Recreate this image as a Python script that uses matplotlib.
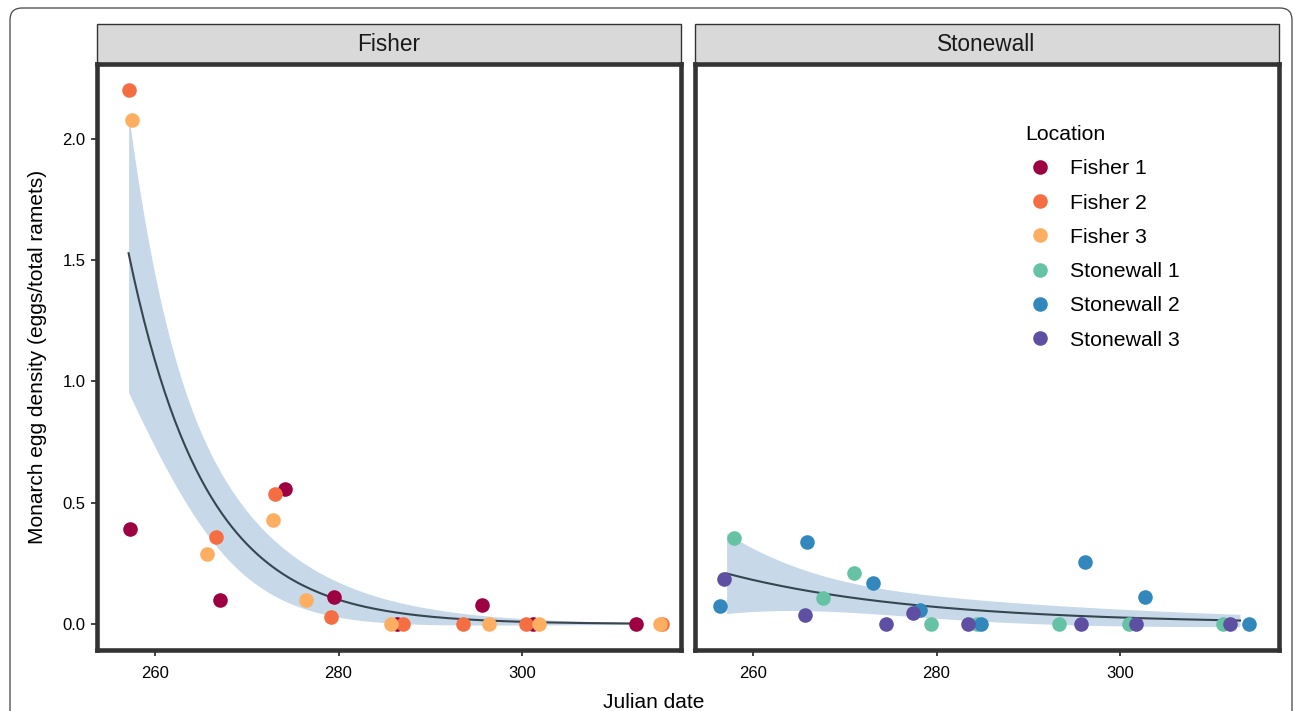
import numpy as np
import matplotlib.pyplot as plt
from matplotlib.patches import Rectangle, FancyBboxPatch
from matplotlib.lines import Line2D

plt.rcParams['font.family'] = ['Liberation Sans', 'DejaVu Sans']

# data (dates are jittered as in the original)
fisher1_date = [257.2, 267.1, 274.2, 279.5, 286.4, 295.7, 301.2, 312.4]
fisher1_eggs = [0.39, 0.10, 0.555, 0.11, 0.0, 0.08, 0.0, 0.0]
fisher2_date = [257.1, 266.6, 273.1, 279.2, 287.0, 293.6, 300.4, 315.3]
fisher2_eggs = [2.20, 0.36, 0.535, 0.03, 0.0, 0.0, 0.0, 0.0]
fisher3_date = [257.5, 265.7, 272.8, 276.5, 285.7, 296.4, 301.9, 315.1]
fisher3_eggs = [2.08, 0.29, 0.43, 0.10, 0.0, 0.0, 0.0, 0.0]
stone1_date = [257.9, 267.6, 271.0, 279.4, 284.4, 293.4, 301.0, 311.3]
stone1_eggs = [0.353, 0.108, 0.21, 0.0, 0.0, 0.0, 0.0, 0.0]
stone2_date = [256.4, 265.9, 273.1, 278.2, 284.8, 296.2, 302.7, 314.1]
stone2_eggs = [0.074, 0.34, 0.17, 0.058, 0.0, 0.254, 0.113, 0.0]
stone3_date = [256.8, 265.6, 274.5, 277.4, 283.4, 295.8, 301.8, 312.0]
stone3_eggs = [0.187, 0.036, 0.0, 0.044, 0.0, 0.0, 0.0, 0.0]

survey_range = (257.1, 313.1)

locations = ["Fisher 1", "Fisher 2", "Fisher 3", "Stonewall 1", "Stonewall 2", "Stonewall 3"]
colors = ["#9E0142", "#F46D43", "#FDAE61", "#66C2A5", "#3288BD", "#5E4FA2"]

panels = {
    "Fisher": [(fisher1_date, fisher1_eggs), (fisher2_date, fisher2_eggs), (fisher3_date, fisher3_eggs)],
    "Stonewall": [(stone1_date, stone1_eggs), (stone2_date, stone2_eggs), (stone3_date, stone3_eggs)],
}


def glm_fit(x, y, xs):
    # quasipoisson glm, log link; CI on response scale (t quantile, n-2 df)
    x0 = 257.0
    X = np.column_stack([np.ones_like(x), x - x0])
    beta = np.array([np.log(y.mean()), 0.0])
    for _ in range(100):
        eta = X @ beta
        mu = np.exp(eta)
        z = eta + (y - mu) / mu
        XtW = X.T * mu
        beta = np.linalg.solve(XtW @ X, XtW @ z)
    mu = np.exp(X @ beta)
    phi = np.sum((y - mu) ** 2 / mu) / (len(y) - 2)
    cov = phi * np.linalg.inv((X.T * mu) @ X)
    Xs = np.column_stack([np.ones_like(xs), xs - x0])
    fit = np.exp(Xs @ beta)
    se = np.sqrt(np.einsum('ij,jk,ik->i', Xs, cov, Xs)) * fit
    q = 2.074  # qt(0.975, 22)
    return fit, fit - q * se, fit + q * se


W, H = 1295, 711
fig = plt.figure(figsize=(W / 100, H / 100), dpi=100)

# outer rounded frame
frame = FancyBboxPatch((0.10, -0.3), 12.82, 7.03 + 0.3, boxstyle="round,pad=0,rounding_size=0.12",
                       transform=fig.dpi_scale_trans, fill=False, edgecolor="#444444", linewidth=0.9)
fig.patches.append(frame)

border = "#333333"
lefts = [96.5, 694.5]
top_px, bot_px = 64.5, 649.5
width_px = 584
strip_top = 24.5

axes = []
for (name, groups), left, k in zip(panels.items(), lefts, [0, 3]):
    ax = fig.add_axes([left / W, (H - bot_px) / H, width_px / W, (bot_px - top_px) / H])
    axes.append(ax)
    xs_all = np.concatenate([np.asarray(d) for d, _ in groups])
    ys_all = np.concatenate([np.asarray(e) for _, e in groups])
    xs = np.linspace(survey_range[0], survey_range[1], 200)
    fit, lo, hi = glm_fit(xs_all, ys_all, xs)
    ax.fill_between(xs, lo, hi, color="steelblue", alpha=0.3, linewidth=0, zorder=1)
    ax.plot(xs, fit, color="#36454F", linewidth=1.5, zorder=2)
    for i, (d, e) in enumerate(groups):
        ax.plot(d, e, 'o', color=colors[k + i], markersize=10.5, markeredgewidth=0, zorder=3)

    ax.set_xlim(253.6, 317.3)
    ax.set_ylim(-0.105, 2.307)
    ax.set_xticks([260, 280, 300])
    ax.set_yticks([0.0, 0.5, 1.0, 1.5, 2.0])
    ax.yaxis.set_major_formatter(plt.FormatStrFormatter('%.1f'))
    for s in ax.spines.values():
        s.set_linewidth(3.3)
        s.set_color(border)
    ax.tick_params(length=4, width=1.3, color=border, labelsize=12, labelcolor="black", pad=4)
    ax.tick_params(axis='x', pad=8)
    if k > 0:
        ax.tick_params(axis='y', left=False, labelleft=False)

    # facet strip
    strip_h = (top_px - strip_top) / (bot_px - top_px)
    ax.add_patch(Rectangle((0, 1), 1, strip_h, transform=ax.transAxes, clip_on=False,
                           facecolor="#D9D9D9", edgecolor=border, linewidth=1.0, zorder=0))
    ax.text(0.5, 1 + strip_h / 2, name, transform=ax.transAxes, ha="center", va="center",
            fontsize=16.3, color="#1A1A1A")

fig.text(38 / W, 1 - 357 / H, "Monarch egg density (eggs/total ramets)", rotation=90,
         ha="center", va="center", fontsize=15)
fig.text(654 / W, 1 - 702 / H, "Julian date", ha="center", va="center", fontsize=15)

handles = [Line2D([], [], marker='o', linestyle='none', color=c, markersize=10.5, markeredgewidth=0)
           for c in colors]
leg = axes[1].legend(handles, locations, title="Location", loc="upper left",
                     bbox_to_anchor=(1008 / W, 1 - 108 / H), bbox_transform=fig.transFigure,
                     frameon=False, fontsize=15.3, title_fontsize=15.3, alignment="left",
                     handlelength=1.4, handletextpad=0.7, labelspacing=0.72, borderpad=0.3)

fig.savefig("out.png", dpi=100)
